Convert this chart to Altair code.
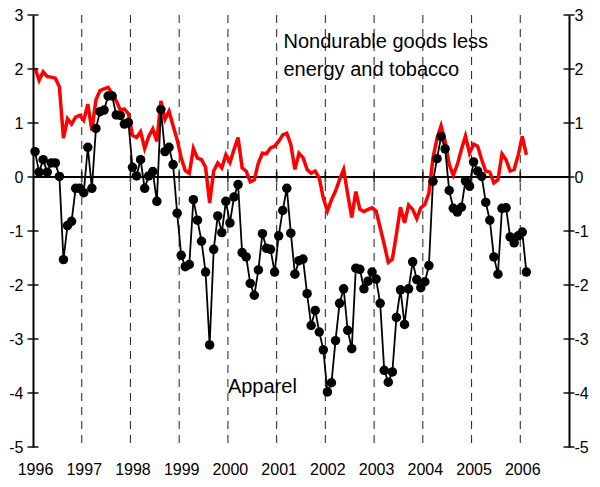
import altair as alt
import pandas as pd

# Monthly data, Jan 1996 .. Feb 2006 (12-month % change)
apparel = [
    0.47, 0.09, 0.32, 0.09, 0.26, 0.26, 0.01, -1.53, -0.90, -0.82, -0.21, -0.21,   # 1996
    -0.29, 0.55, -0.21, 0.90, 1.21, 1.24, 1.50, 1.50, 1.15, 1.14, 0.98, 1.01,      # 1997
    0.18, 0.02, 0.32, -0.21, 0.02, 0.10, -0.45, 1.25, 0.47, 0.55, 0.23, -0.67,     # 1998
    -1.45, -1.66, -1.62, -0.42, -0.80, -1.19, -1.76, -3.11, -1.34, -0.72, -1.03, -0.45,  # 1999
    -0.85, -0.37, -0.14, -1.40, -1.48, -1.97, -2.19, -1.72, -1.05, -1.32, -1.34, -1.76,  # 2000
    -1.09, -0.62, -0.21, -1.04, -1.80, -1.55, -1.52, -2.16, -2.75, -2.47, -2.87, -3.20,  # 2001
    -3.98, -3.81, -3.03, -2.34, -2.07, -2.84, -3.18, -1.69, -1.71, -2.07, -1.93, -1.76,  # 2002
    -1.89, -2.34, -3.58, -3.80, -3.61, -2.60, -2.09, -2.73, -2.07, -1.57, -1.90, -2.05,  # 2003
    -1.94, -1.64, -0.08, 0.34, 0.75, 0.52, -0.25, -0.58, -0.65, -0.56, -0.07, -0.17,     # 2004
    0.28, 0.11, 0.01, -0.47, -0.80, -1.48, -1.80, -0.58, -0.57, -1.11, -1.22, -1.09,     # 2005
    -1.02, -1.76,                                                                         # 2006
]

nondurable = [
    2.02, 1.79, 1.95, 1.86, 1.85, 1.83, 1.67, 0.72, 1.08, 0.98, 1.11, 1.14,        # 1996
    1.05, 1.35, 0.86, 1.43, 1.60, 1.63, 1.66, 1.55, 1.41, 1.24, 1.26, 1.17,        # 1997
    0.77, 0.73, 0.84, 0.53, 0.75, 0.89, 0.66, 1.41, 1.07, 1.22, 0.95, 0.69,        # 1998
    0.35, 0.12, 0.07, 0.53, 0.35, 0.32, 0.18, -0.48, 0.11, 0.26, 0.17, 0.41,       # 1999
    0.27, 0.51, 0.73, 0.17, 0.11, -0.09, -0.05, 0.26, 0.44, 0.43, 0.54, 0.57,      # 2000
    0.66, 0.78, 0.81, 0.60, 0.14, 0.44, 0.36, 0.14, 0.07, 0.11, -0.02, -0.39,      # 2001
    -0.63, -0.42, -0.26, -0.05, 0.14, -0.32, -0.75, -0.27, -0.60, -0.64, -0.60, -0.57,  # 2002
    -0.63, -0.94, -1.25, -1.58, -1.52, -1.06, -0.56, -0.85, -0.52, -0.60, -0.77, -0.57, # 2003
    -0.51, -0.30, 0.35, 0.72, 0.95, 0.66, 0.23, 0.03, 0.23, 0.51, 0.76, 0.44,      # 2004
    0.61, 0.57, 0.32, 0.11, 0.09, -0.11, -0.05, 0.43, 0.32, 0.11, 0.14, 0.41,      # 2005
    0.75, 0.41,                                                                     # 2006
]

year_labels = list(range(1996, 2007))
dash_years = list(range(1997, 2007))
y_ticks = list(range(-5, 4))
annotations = ["Nondurable goods less", "energy and tobacco", "Apparel"]
annotation_x = [2001.14, 2001.14, 2000.0]
annotation_y = [2.38, 1.87, -4.0]

FONT = "Liberation Sans"

x_vals = [1996 + (i + 0.5) / 12 for i in range(len(apparel))]
df = pd.DataFrame({"x": x_vals, "apparel": apparel, "nondur": nondurable})
years_df = pd.DataFrame({"year": dash_years})
yt_df = pd.DataFrame({"v": y_ticks, "left": [1996] * len(y_ticks), "right": [2007] * len(y_ticks)})
ann_df = pd.DataFrame({"text": annotations, "x": annotation_x, "y": annotation_y})

xs = alt.Scale(domain=[1996, 2007], nice=False, zero=False)
ys = alt.Scale(domain=[-5, 3], nice=False, zero=False)

x_axis = alt.Axis(values=year_labels, labelExpr="datum.value + ''", domain=False, ticks=False,
                  grid=False, labelPadding=14, labelFontSize=16, labelFont=FONT,
                  labelColor="black", labelFlush=False, labelOverlap=False, labelOffset=2,
                  title=None, orient="bottom")
y_left = alt.Axis(values=y_ticks, labelExpr="datum.value + ''", orient="left", domain=True,
                  domainColor="black", domainWidth=2, ticks=False, grid=False,
                  labelPadding=10, labelFontSize=16, labelFont=FONT, labelColor="black",
                  labelFlush=False, labelOverlap=False, title=None)
y_right = alt.Axis(values=y_ticks, labelExpr="datum.value + ''", orient="right", domain=True,
                   domainColor="black", domainWidth=2, ticks=False, grid=False,
                   labelPadding=5, labelFontSize=16, labelFont=FONT, labelColor="black",
                   labelFlush=False, labelOverlap=False, title=None)


def X(field):
    return alt.X(field, scale=xs, axis=x_axis, title=None)


dashes = alt.Chart(years_df).mark_rule(color="#333333", strokeWidth=1.1, strokeDash=[8, 6]).encode(
    x=X("year:Q")
)

zero_line = alt.Chart(years_df).mark_rule(color="black", strokeWidth=1.8).encode(
    y=alt.Y(datum=0, scale=ys, axis=None)
)

year_ticks = alt.Chart(years_df).mark_tick(orient="vertical", size=11, thickness=1.8, color="black").encode(
    x=X("year:Q"),
    y=alt.Y(datum=0, scale=ys, axis=None),
)

left_ticks = alt.Chart(yt_df).mark_tick(orient="horizontal", size=11, thickness=2, color="black").encode(
    x=X("left:Q"),
    y=alt.Y("v:Q", scale=ys, axis=y_left),
)
right_ticks = alt.Chart(yt_df).mark_tick(orient="horizontal", size=11, thickness=2, color="black").encode(
    x=X("right:Q"),
    y=alt.Y("v:Q", scale=ys, axis=y_right),
)

red = alt.Chart(df).mark_line(color="#ff0000", strokeWidth=3.5).encode(
    x=X("x:Q"),
    y=alt.Y("nondur:Q", scale=ys, axis=None),
)

black_line = alt.Chart(df).mark_line(color="black", strokeWidth=1.8).encode(
    x=X("x:Q"),
    y=alt.Y("apparel:Q", scale=ys, axis=None),
)
black_pts = alt.Chart(df).mark_point(filled=True, color="black", size=90, opacity=1).encode(
    x=X("x:Q"),
    y=alt.Y("apparel:Q", scale=ys, axis=None),
)

texts = alt.Chart(ann_df).mark_text(align="left", baseline="alphabetic", font=FONT, fontSize=20,
                                    color="black").encode(
    x=X("x:Q"),
    y=alt.Y("y:Q", scale=ys, axis=None),
    text="text:N",
)

chart = alt.layer(
    dashes, zero_line, year_ticks, red, black_line, black_pts, texts, left_ticks, right_ticks
).resolve_axis(y="independent").properties(
    width=536, height=432,
    autosize=alt.AutoSizeParams(type="none"),
    padding={"left": 25, "top": 7, "right": 23, "bottom": 32},
    background="white",
).configure_view(stroke=None)

chart.save("out.html", embed_options={"renderer": "svg", "actions": False})
